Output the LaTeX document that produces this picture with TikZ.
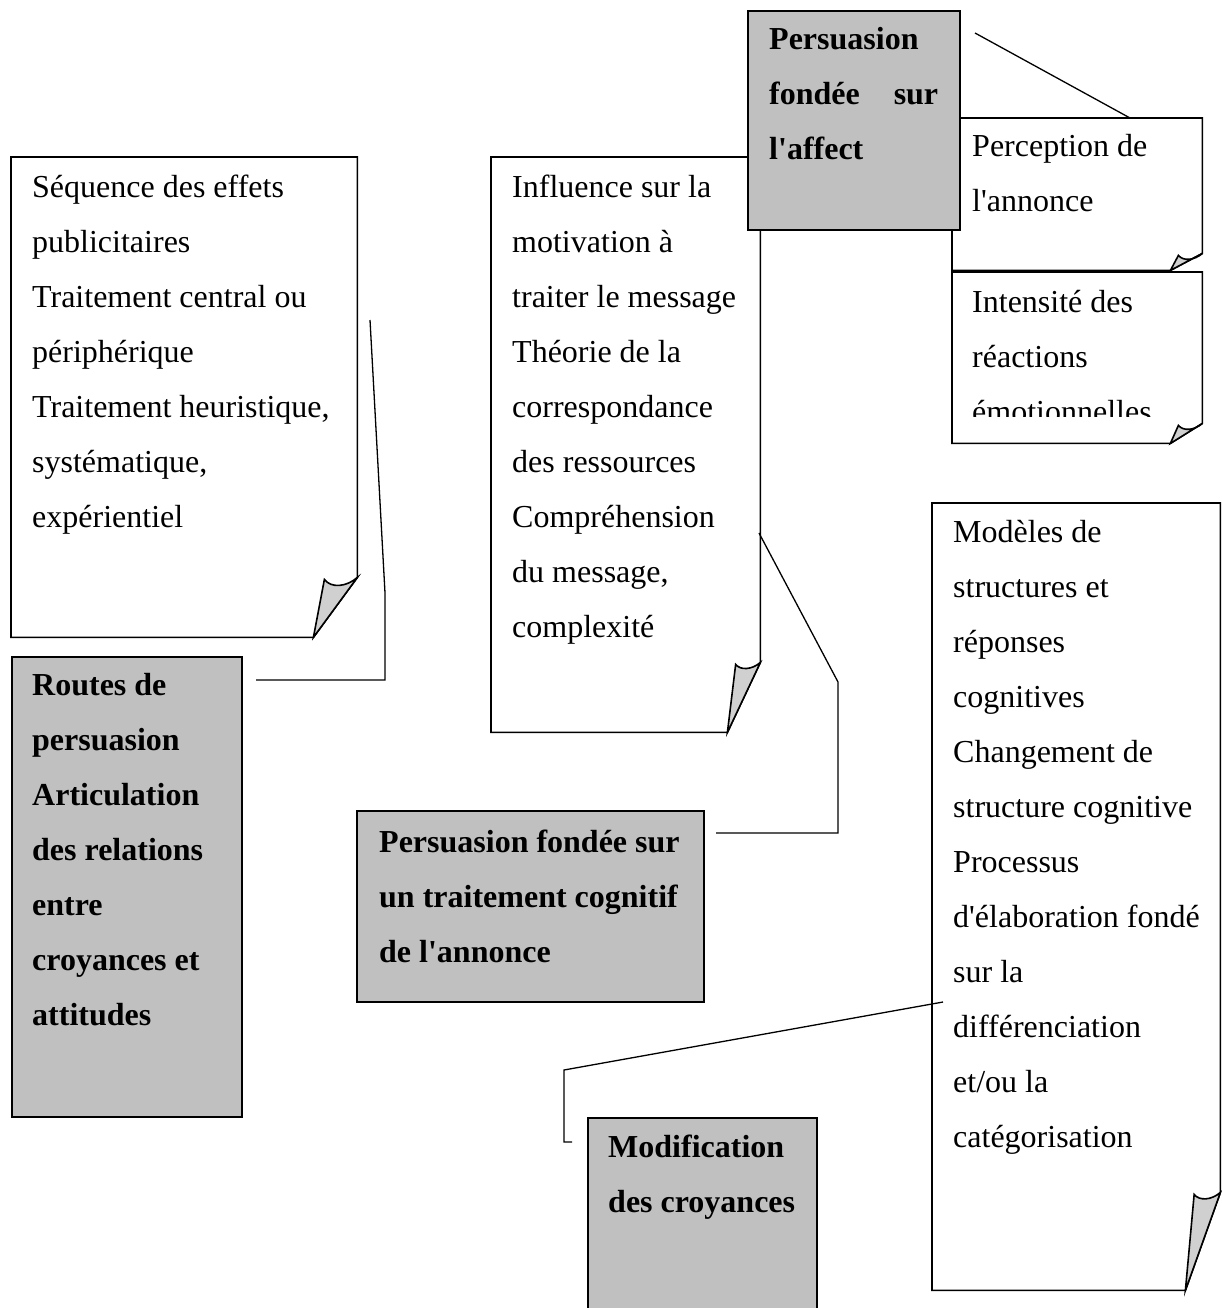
\documentclass[tikz,border=0pt]{standalone}
\usepackage{fontspec}
\setmainfont{Liberation Serif}
\usetikzlibrary{calc}
\definecolor{boxgray}{HTML}{C0C0C0}
\definecolor{foldgray}{HTML}{D0D0D0}

% straight apostrophe as in the scan
\newcommand\apos{\textquotesingle}

% page with a folded lower right corner: node, fold width, fold height
\newcommand\foldpage[3]{%
  \filldraw[pageline, fill=white] (#1.north west) -- (#1.north east)
    -- ([yshift=#3]#1.south east) -- ([xshift=-#2]#1.south east)
    -- (#1.south west) -- cycle;
  \filldraw[pageline, fill=foldgray] ([xshift=-#2]#1.south east)
    -- ([xshift=-0.75*#2, yshift=#3-2pt]#1.south east)
    .. controls ([xshift=-0.6*#2, yshift=#3-0.25*#2]#1.south east)
    and ([xshift=-0.25*#2, yshift=#3-0.22*#2]#1.south east)
    .. ([yshift=#3]#1.south east) -- cycle;
}

\begin{document}
\begin{tikzpicture}[
    x=1pt, y=-1pt,
    pageline/.style={line width=1.6pt, line join=miter},
    page/.style={anchor=north west, inner sep=0pt, draw=none},
    graybox/.style={anchor=north west, inner sep=0pt, draw, fill=boxgray, line width=1.6pt},
    body/.style={anchor=base west, align=flush left, inner sep=0pt, text width=360pt,
        font=\fontsize{32}{55}\selectfont},
    bodybold/.style={body, font=\fontsize{32}{55}\selectfont\bfseries},
    callout/.style={line width=1.3pt},
]
\useasboundingbox (0,0) rectangle (1221,1308);

% white pages
\node[page, minimum width=346pt, minimum height=480pt] (seq) at (11,157) {};
\foldpage{seq}{44pt}{60pt}
\node[body] (seqtxt) at (32,197) {S\'equence des effets\\ publicitaires\\ Traitement central ou\\
    p\'eriph\'erique\\ Traitement heuristique,\\ syst\'ematique,\\ exp\'erientiel};

\node[page, minimum width=269pt, minimum height=575pt] (infl) at (491,157) {};
\foldpage{infl}{33pt}{70pt}
\node[body] (infltxt) at (512,197) {Influence sur la\\ motivation \`a\\ traiter le message\\
    Th\'eorie de la\\ correspondance\\ des ressources\\ Compr\'ehension\\ du message,\\ complexit\'e};

\node[page, minimum width=250pt, minimum height=152pt] (percep) at (952,118) {};
\foldpage{percep}{32pt}{17pt}
\node[body] (perceptxt) at (972,157) {Perception de\\ l\apos annonce};

\node[page, minimum width=250pt, minimum height=171pt] (intens) at (952,272) {};
\foldpage{intens}{32pt}{20pt}
\begin{scope}
  \clip (intens.north west) rectangle ([yshift=27pt]intens.south east);
  \node[body] (intenstxt) at (972,312) {Intensit\'e des\\ r\'eactions\\ \'emotionnelles};
\end{scope}

\node[page, minimum width=288pt, minimum height=787pt] (modeles) at (932,503) {};
\foldpage{modeles}{35pt}{98pt}
\node[body] (modtxt) at (953,542) {Mod\`eles de\\ structures et\\ r\'eponses\\ cognitives\\
    Changement de\\ structure cognitive\\ Processus\\ d\apos\'elaboration fond\'e\\ sur la\\
    diff\'erenciation\\ et/ou la\\ cat\'egorisation};

% gray boxes
\node[graybox, minimum width=212pt, minimum height=219pt] (affect) at (747,10) {};
\node[bodybold] (affecttxt) at (769,50) {Persuasion\\ \leavevmode\hbox to 169pt{fond\'ee\hfill sur}\\ l\apos affect};

\node[graybox, minimum width=230pt, minimum height=460pt] (routes) at (11,656) {};
\node[bodybold] (routestxt) at (32,695) {Routes de\\ persuasion\\ Articulation\\ des relations\\
    entre\\ croyances et\\ attitudes};

\node[graybox, minimum width=347pt, minimum height=191pt] (cognitif) at (356,810) {};
\node[bodybold] (cogtxt) at (379,852) {Persuasion fond\'ee sur\\ un traitement cognitif\\ de l\apos annonce};

\node[graybox, minimum width=229pt, minimum height=240pt] (croyances) at (587,1117) {};
\node[bodybold] (croytxt) at (608,1157) {Modification\\ des croyances};

% callout lines
\coordinate (seqtail) at (370,320);
\coordinate (routestip) at (256,680);
\draw[callout] (seqtail) -- (385,593) |- (routestip);

\coordinate (infltail) at (759,533);
\coordinate (cogtip) at (716,833);
\draw[callout] (infltail) -- (838,682) |- (cogtip);

\coordinate (affecttail) at (975,33);
\coordinate (percephead) at (1130,118);
\draw[callout] (affecttail) -- (percephead);

\coordinate (modtail) at (943,1002);
\coordinate (croytip) at (572,1142);
\draw[callout] (modtail) -- (564,1070) |- (croytip);

\end{tikzpicture}
\end{document}
